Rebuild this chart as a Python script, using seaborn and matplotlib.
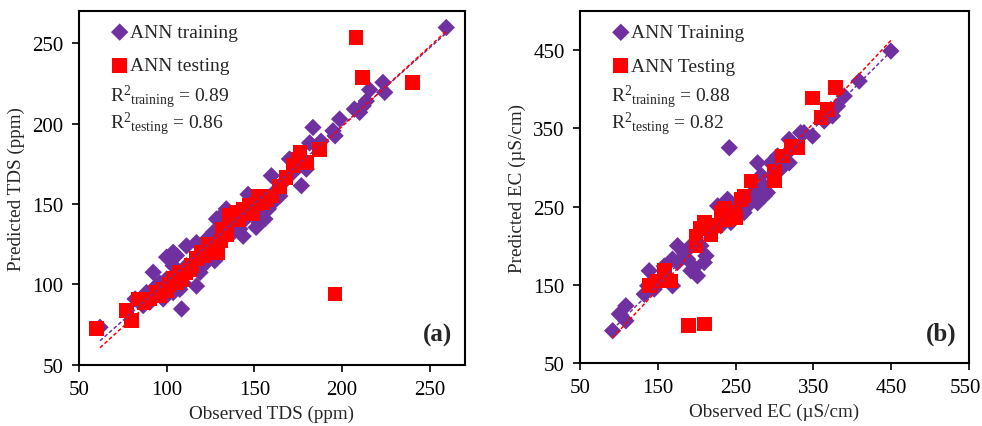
import numpy as np
import pandas as pd
import matplotlib
matplotlib.use("Agg")
import matplotlib.pyplot as plt
import matplotlib.transforms as mtransforms
import seaborn as sns

sns.set_style("ticks")
plt.rcParams["font.family"] = ["Liberation Serif", "DejaVu Serif"]
plt.rcParams["mathtext.fontset"] = "custom"
plt.rcParams["mathtext.rm"] = "Liberation Serif"
plt.rcParams["mathtext.it"] = "Liberation Serif:italic"
plt.rcParams["mathtext.bf"] = "Liberation Serif:bold"

# ---- TDS (ppm): observed vs predicted ----
tds_train_obs = [62, 82, 86.6, 92.3, 100, 108.5, 111.3, 117, 127.4, 130.3, 134, 143.6, 146.4,
                 151, 156, 159.7, 159.7, 176.8, 179.6, 183.4, 188, 194.8, 196, 198.6, 207,
                 212, 213.8, 215.7, 223.3, 224.3, 259.4, 164.5, 172, 170, 181.5,
                 88.5, 94, 96, 100, 103.7, 105.6, 111.3, 103.7, 119, 120.8, 122.7, 126.5,
                 137.9, 137.9, 141.7, 148, 152.7, 153.8, 128.4, 117, 115, 109.4, 107.5,
                 103.7, 98, 90.4, 84.7, 132, 140, 145, 158, 162, 166, 174, 186, 210]
tds_train_pred = [73.4, 91, 86.9, 107.6, 117, 84.8, 124, 99, 114.8, 141.7, 147, 130, 156,
                  135.5, 140.7, 150, 167.6, 161.4, 171.7, 197.6, 189, 195.5, 192.4, 202.8, 209,
                  211, 214, 221, 225.6, 219.4, 259.7, 155, 169.7, 178, 188,
                  95, 99, 101, 103.4, 111.7, 118, 111.7, 120, 107.5, 111.7, 128, 132.4,
                  132.4, 136.5, 134.5, 144.8, 138.6, 142.8, 140.7, 126, 109.6, 101, 97,
                  95, 91, 89, 90, 128, 138, 141, 147, 158, 163, 176, 186, 207]
tds_test_obs = [60, 77, 80, 83.8, 90.4, 94, 98, 101.8, 105.6, 108.5, 111, 114, 117, 119.9,
                123.6, 127.4, 129, 131, 132, 136, 139.8, 143.6, 147, 149, 152, 155, 157,
                164.5, 168, 172, 176, 179.6, 187, 196, 208, 211.5, 240, 96, 107.5,
                87, 100, 104, 113, 121, 134, 141, 151, 160, 175]
tds_test_pred = [72.8, 83.7, 77.5, 91, 91, 95, 97, 100, 101, 103, 107.5, 111.7, 116, 120,
                 125, 124, 120, 127, 134.5, 142.8, 144.8, 147, 149, 144, 155, 151, 153,
                 161, 166.6, 173.8, 182, 176, 184, 94, 253.5, 228.7, 225.6, 93, 107.6,
                 89, 96, 104, 109, 118, 131, 140, 150, 155, 178]
# linear trend lines (slope, intercept)
tds_fit_train = (0.969, 4.9)
tds_fit_test = (0.9965, -1.1)

# ---- EC (µS/cm): observed vs predicted ----
ec_train_obs = [92, 100.6, 109, 109, 137, 139, 132.7, 169, 169, 175.5, 188.4, 192.7, 201,
                209.8, 212, 205.5, 231, 235.5, 242, 261, 265.5, 278.4, 278.4, 278.4, 287,
                295.5, 291, 319, 319, 314.8, 338, 349, 364, 381, 389.8, 409, 449.7,
                244, 252.7, 239.8, 227, 218, 192.7, 184, 175.5, 158.4, 149.8, 145.5, 257,
                265.5, 274, 287, 304, 333.8, 372.6, 374.7, 197, 221, 248, 270, 283, 310]
ec_train_pred = [91.3, 112.6, 123.2, 104, 148.8, 168, 138, 148.8, 182.8, 200, 182.8, 168,
                 161.5, 178.6, 187, 200, 225.4, 234, 325.4, 242.4, 251, 255, 306, 268, 276.5,
                 306, 268, 336, 306, 317, 344.6, 340.3, 359.5, 378.6, 391.4, 410.6, 449,
                 229.7, 242.4, 259.4, 251, 225.4, 200, 191, 178.6, 174, 153, 144.5, 242.4,
                 259.4, 276.5, 263.7, 314.8, 344.6, 374.4, 366, 172, 220, 248, 262, 290, 300]
ec_test_obs = [189.7, 209.8, 139, 149.8, 158.4, 167, 199, 199, 209.8, 218.4, 231.2, 239.8,
               248.4, 250.5, 257, 261, 269.8, 299.8, 299.8, 310.5, 321.2, 329.8, 349,
               359.8, 368.3, 379, 205, 225, 236]
ec_test_pred = [97.7, 99.8, 148.8, 155, 168, 155, 200, 212.6, 229.6, 214.7, 242.4, 234,
                242.4, 236, 259.4, 263.7, 282.9, 282.9, 295.6, 314.8, 327.6, 325.4, 389,
                363.7, 374.4, 402, 222, 226, 248]
ec_fit_train = (0.994, 1.5)
ec_fit_test = (1.063, -15.5)

PURPLE = "#7030A0"
RED = "#FF0000"

panels = [
    dict(tr_x=tds_train_obs, tr_y=tds_train_pred, te_x=tds_test_obs, te_y=tds_test_pred,
         fit_tr=tds_fit_train, fit_te=tds_fit_test,
         labels=("ANN training", "ANN testing"), r2=("0.89", "0.86"),
         xlim=(50, 270), ylim=(50, 270), xticks=[50, 100, 150, 200, 250],
         yticks=[50, 100, 150, 200, 250],
         xlabel="Observed TDS (ppm)", ylabel="Predicted TDS (ppm)", tag="(a)",
         rect=[0.0804, 0.143, 0.393, 0.829], edge_label=False),
    dict(tr_x=ec_train_obs, tr_y=ec_train_pred, te_x=ec_test_obs, te_y=ec_test_pred,
         fit_tr=ec_fit_train, fit_te=ec_fit_test,
         labels=("ANN Training", "ANN Testing"), r2=("0.88", "0.82"),
         xlim=(50, 550), ylim=(50, 500), xticks=[50, 150, 250, 350, 450, 550],
         yticks=[50, 150, 250, 350, 450],
         xlabel="Observed EC (µS/cm)", ylabel="Predicted EC (µS/cm)", tag="(b)",
         rect=[0.5906, 0.1475, 0.396, 0.824], edge_label=True),
]

fig = plt.figure(figsize=(9.82, 4.27), dpi=100)

for p in panels:
    ax = fig.add_axes(p["rect"])
    train = pd.DataFrame({"obs": p["tr_x"], "pred": p["tr_y"]})
    test = pd.DataFrame({"obs": p["te_x"], "pred": p["te_y"]})

    sns.scatterplot(data=train, x="obs", y="pred", marker="D", s=78, color=PURPLE,
                    edgecolor="none", linewidth=0, ax=ax, label=p["labels"][0], zorder=2)
    sns.scatterplot(data=test, x="obs", y="pred", marker="s", s=112, color=RED,
                    edgecolor="none", linewidth=0, ax=ax, label=p["labels"][1], zorder=3)

    # trend lines spanning the training range
    xs = np.array([min(p["tr_x"]), max(p["tr_x"])])
    for (m, b), col in ((p["fit_tr"], PURPLE), (p["fit_te"], RED)):
        line = pd.DataFrame({"x": xs, "y": m * xs + b})
        sns.lineplot(data=line, x="x", y="y", color=col, lw=1.1, ax=ax,
                     linestyle=(0, (2.5, 1.5)), zorder=4, legend=False)

    ax.set_xlim(*p["xlim"])
    ax.set_ylim(*p["ylim"])
    ax.set_xticks(p["xticks"])
    ax.set_yticks(p["yticks"])
    ax.tick_params(axis="both", labelsize=15, direction="out", length=5, width=1.2,
                   colors="black", pad=6)
    ax.set_xlabel(p["xlabel"], fontsize=13.8, labelpad=4)
    ax.set_ylabel(p["ylabel"], fontsize=13.8, labelpad=5)
    for sp in ax.spines.values():
        sp.set_visible(True)
        sp.set_linewidth(1.5)
        sp.set_color("black")

    if p["edge_label"]:
        # nudge the right-most x tick label so it stays inside the figure
        last = ax.get_xticklabels()[-1]
        last.set_transform(last.get_transform() +
                           mtransforms.ScaledTranslation(-2.5 / 72, 0, fig.dpi_scale_trans))

    ax.legend(loc="upper left", bbox_to_anchor=(0.045, 1.0), frameon=False,
              fontsize=14, handletextpad=0.0, handlelength=1.1,
              labelspacing=0.8, borderaxespad=0.2, borderpad=0.45)

    r2_text = (r"R$^{2}{}_{\mathrm{training}}$ = " + p["r2"][0] + "\n"
               + r"R$^{2}{}_{\mathrm{testing}}$ = " + p["r2"][1])
    ax.text(0.08, 0.72, r2_text, transform=ax.transAxes, fontsize=14,
            va="center", ha="left", linespacing=1.0)
    ax.text(0.93, 0.085, p["tag"], transform=ax.transAxes, fontsize=18,
            fontweight="bold", ha="center", va="center")

fig.savefig("out.png", dpi=100)
